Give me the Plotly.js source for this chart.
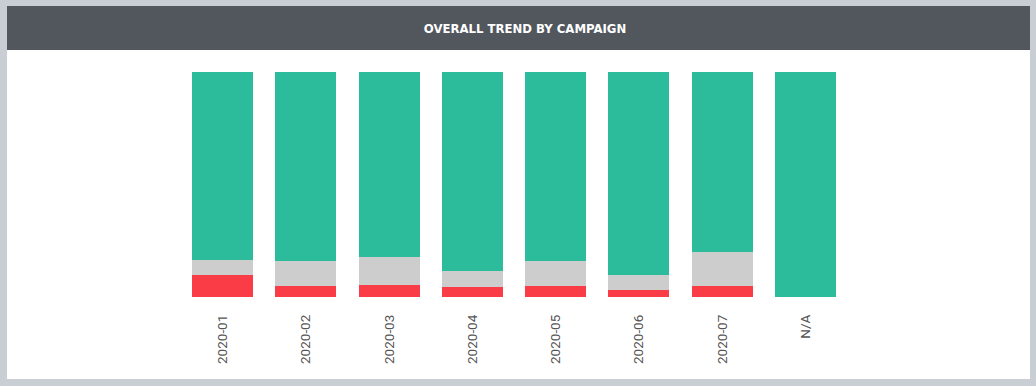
<!DOCTYPE html>
<html><head><meta charset="utf-8">
<script src="https://cdn.plot.ly/plotly-3.0.1.min.js"></script>
<style>html,body{margin:0;padding:0;background:#c8ced4;}#chart{width:1036px;height:386px;}</style>
</head><body><div id="chart"></div>
<script>
const categories = ["2020-01","2020-02","2020-03","2020-04","2020-05","2020-06","2020-07","N/A"];
const redValues   = [9.9, 5.0, 5.3, 4.6, 4.9, 3.2, 4.7, 0];
const grayValues  = [6.7, 11.2, 12.3, 7.1, 10.9, 6.7, 15.3, 0];
const greenValues = [83.4, 83.8, 82.4, 88.3, 84.2, 90.1, 80.0, 100];

const W = 666, H = 225, L = 181, T = 72;
const px = x => (x - L) / W;
const py = y => (T + H - y) / H;

const mk = (y, color, name) => ({type:'bar', x:categories, y:y, name:name,
  marker:{color:color, line:{width:0}}, hoverinfo:'x+y'});

const data = [
  mk(redValues, '#f93c45', 'Negative'),
  mk(grayValues, '#cecdce', 'Neutral'),
  mk(greenValues, '#2dbc9b', 'Positive')
];

const layout = {
  width:1036, height:386,
  margin:{l:L, r:1036-L-W, t:T, b:386-T-H, pad:0},
  paper_bgcolor:'#c8ced4', plot_bgcolor:'rgba(0,0,0,0)',
  barmode:'stack', bargap:0.27, showlegend:false,
  title:{text:'<b>OVERALL TREND BY CAMPAIGN</b>', xref:'container', yref:'container',
    x:525/1036, y:1-28/386, xanchor:'center', yanchor:'middle',
    font:{family:'DejaVu Sans Condensed, Roboto, sans-serif', size:13, color:'#ffffff'}},
  xaxis:{type:'category', tickangle:-90, showgrid:false, zeroline:false, showline:false,
    ticks:'', ticklen:0, ticklabelstandoff:14,
    tickfont:{family:'Roboto, Liberation Sans, sans-serif', size:13.5, color:'#555555'}},
  yaxis:{range:[0,100], visible:false, fixedrange:true},
  shapes:[
    {type:'rect', xref:'paper', yref:'paper', layer:'below', x0:px(7), x1:px(1030), y0:py(379), y1:py(6),
     fillcolor:'#ffffff', line:{width:0}},
    {type:'rect', xref:'paper', yref:'paper', layer:'below', x0:px(7), x1:px(1030), y0:py(50), y1:py(6),
     fillcolor:'#52565d', line:{width:0}}
  ]
};
Plotly.newPlot('chart', data, layout, {displayModeBar:false, staticPlot:true});
</script></body></html>
